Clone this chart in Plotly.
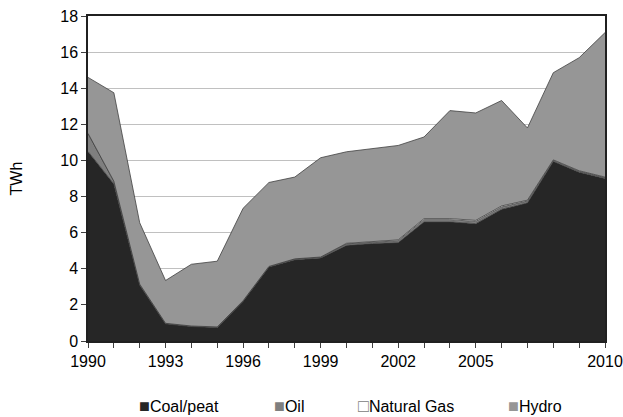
import plotly.graph_objects as go

years = list(range(1990, 2011))
coal_peat = [10.5, 8.7, 3.1, 0.95, 0.8, 0.75, 2.2, 4.1, 4.5, 4.6, 5.3, 5.4, 5.45, 6.6, 6.6, 6.5, 7.3, 7.65, 9.95, 9.35, 9.0]
oil = [1.0, 0.15, 0.05, 0.03, 0.03, 0.03, 0.03, 0.03, 0.05, 0.05, 0.08, 0.08, 0.1, 0.12, 0.12, 0.12, 0.12, 0.1, 0.05, 0.05, 0.05]
natural_gas = [0, 0, 0, 0, 0, 0, 0, 0, 0, 0, 0.03, 0.04, 0.05, 0.06, 0.06, 0.06, 0.06, 0.05, 0.03, 0.03, 0.03]
hydro = [3.1, 4.9, 3.4, 2.37, 3.42, 3.64, 5.12, 4.65, 4.53, 5.5, 5.07, 5.13, 5.23, 4.52, 5.98, 5.95, 5.84, 4.0, 4.83, 6.26, 8.0]

tick_labels = {1990: "1990", 1993: "1993", 1996: "1996", 1999: "1999",
               2002: "2002", 2005: "2005", 2010: "2010"}
y_ticks = [0, 2, 4, 6, 8, 10, 12, 14, 16, 18]

series = [
    ("Coal/peat", coal_peat, "#262626"),
    ("Oil", oil, "#7f7f7f"),
    ("Natural Gas", natural_gas, "#f0f0f0"),
    ("Hydro", hydro, "#969696"),
]

FONT = "Liberation Sans, Arial, sans-serif"
fig = go.Figure()
for name, vals, col in series:
    fig.add_trace(go.Scatter(
        x=years, y=vals, name=name, stackgroup="one", mode="lines",
        line=dict(color="#404040", width=0.8), fillcolor=col,
        showlegend=False, hoverinfo="x+y+name"))

fig.update_layout(
    width=623, height=417,
    margin=dict(l=88, r=18, t=16, b=76),
    paper_bgcolor="white", plot_bgcolor="white",
    font=dict(family=FONT, size=16, color="black"),
    xaxis=dict(range=[1990, 2010], tickvals=years,
               ticktext=[tick_labels.get(y, "") for y in years],
               ticks="outside", ticklen=5, tickcolor="#404040",
               showline=True, linecolor="#202020", linewidth=1.5, mirror=True,
               showgrid=False, zeroline=False, tickangle=0, automargin=False),
    yaxis=dict(range=[0, 18], tickvals=y_ticks,
               ticks="outside", ticklen=5, tickcolor="#404040",
               showline=True, linecolor="#202020", linewidth=1.5, mirror=True,
               showgrid=True, gridcolor="#c0c0c0", gridwidth=1, zeroline=False,
               automargin=False,
               title=dict(text="TWh", standoff=34, font=dict(size=16))),
)

legend_pos = [0.0948, 0.356, 0.518, 0.8085]
for (name, vals, col), xp in zip(series, legend_pos):
    sym = "□" if name == "Natural Gas" else "■"
    symcol = "#808080" if name == "Natural Gas" else col
    fig.add_annotation(
        x=xp, y=-0.2, xref="paper", yref="paper", xanchor="left", yanchor="middle",
        showarrow=False,
        text=f"<span style='color:{symcol};font-size:18px'>{sym}</span>{name}",
        font=dict(family=FONT, size=16, color="black"))

fig.write_html("out.html", config={"displayModeBar": False},
               post_script="document.body.style.margin='0';")
